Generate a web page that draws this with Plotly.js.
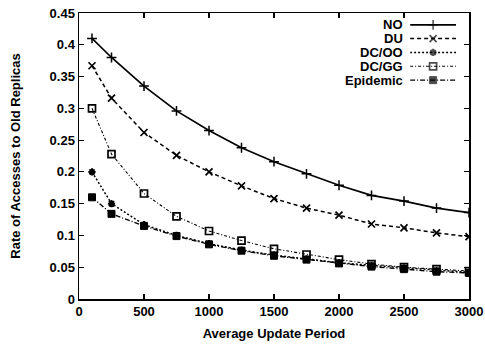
<!DOCTYPE html>
<html>
<head>
<meta charset="utf-8">
<script src="https://cdn.plot.ly/plotly-3.0.1.min.js"></script>
<style>html,body{margin:0;padding:0;background:#fff;}#chart{width:485px;height:344px;}</style>
</head>
<body>
<div id="chart"></div>
<script>
var periods = [100, 250, 500, 750, 1000, 1250, 1500, 1750, 2000, 2250, 2500, 2750, 3000];
var seriesNames = ["NO", "DU", "DC/OO", "DC/GG", "Epidemic"];
var noVals = [0.41, 0.38, 0.335, 0.296, 0.265, 0.238, 0.216, 0.197, 0.179, 0.163, 0.154, 0.143, 0.136];
var duVals = [0.367, 0.316, 0.262, 0.226, 0.2, 0.178, 0.158, 0.143, 0.132, 0.118, 0.112, 0.104, 0.098];
var dcooVals = [0.2, 0.15, 0.117, 0.1, 0.087, 0.077, 0.069, 0.063, 0.057, 0.053, 0.049, 0.045, 0.042];
var dcggVals = [0.3, 0.228, 0.166, 0.13, 0.107, 0.092, 0.079, 0.07, 0.062, 0.055, 0.05, 0.047, 0.044];
var epiVals = [0.16, 0.134, 0.115, 0.099, 0.086, 0.076, 0.068, 0.062, 0.056, 0.051, 0.047, 0.043, 0.041];

var styles = [
  {dash: "solid", width: 1.7, symbol: "cross-thin-open", size: 7, mw: 1.5},
  {dash: "4px,3px", width: 1.5, symbol: "x-thin-open", size: 7, mw: 1.7},
  {dash: "2px,2px", width: 1.5, symbol: "asterisk-open", size: 6, mw: 2},
  {dash: "3px,2px,1px,2px", width: 1.1, symbol: "square-open", size: 7, mw: 1.7},
  {dash: "5px,2px,1px,2px", width: 1.4, symbol: "square", size: 7, mw: 1}
];
var vals = [noVals, duVals, dcooVals, dcggVals, epiVals];
var traces = [];
var annotations = [];
var font = {family: "Liberation Sans, Arial, sans-serif", size: 13, color: "#000", weight: "bold"};

vals.forEach(function(v, i) {
  var s = styles[i];
  traces.push({
    x: periods, y: v, name: seriesNames[i], type: "scatter", mode: "lines+markers",
    showlegend: false,
    line: {color: "#000", width: s.width, dash: s.dash},
    marker: {symbol: s.symbol, size: s.size, color: "#000", line: {color: "#000", width: s.mw}}
  });
  // legend sample (line with a marker in the middle), on the legend axes
  traces.push({
    x: [0, 0.5, 1], y: [i, i, i], xaxis: "x2", yaxis: "y2", type: "scatter", mode: "lines+markers",
    showlegend: false, hoverinfo: "skip",
    line: {color: "#000", width: s.width, dash: s.dash},
    marker: {symbol: s.symbol, size: [0, s.size, 0], color: "#000", line: {color: "#000", width: [0, s.mw, 0]}}
  });
  annotations.push({
    text: seriesNames[i], xref: "paper", yref: "y2", x: 0.836, y: i,
    xanchor: "right", yanchor: "middle", showarrow: false, font: font
  });
});

var axisCommon = {
  showgrid: false, zeroline: false, showline: true, linecolor: "#000", linewidth: 1.5,
  mirror: "allticks", ticks: "inside", ticklen: 5, tickwidth: 1.2, tickcolor: "#000",
  tickfont: font
};
var layout = {
  width: 485, height: 344,
  margin: {l: 79, r: 16, t: 13, b: 45},
  paper_bgcolor: "#fff", plot_bgcolor: "#fff",
  font: font,
  showlegend: false,
  annotations: annotations,
  xaxis: Object.assign({}, axisCommon, {
    range: [0, 3000], tickmode: "linear", tick0: 0, dtick: 500,
    title: {text: "Average Update Period", font: font, standoff: 11}
  }),
  yaxis: Object.assign({}, axisCommon, {
    range: [0, 0.45], tickmode: "linear", tick0: 0, dtick: 0.05,
    title: {text: "Rate of Accesses to Old Replicas", font: font, standoff: 26}
  }),
  xaxis2: {domain: [0.849, 0.967], range: [0, 1], anchor: "y2", visible: false, fixedrange: true},
  yaxis2: {domain: [0.741, 0.983], range: [4.5, -0.5], anchor: "x2", visible: false, fixedrange: true}
};
Plotly.newPlot("chart", traces, layout, {displayModeBar: false, staticPlot: true});
</script>
</body>
</html>
